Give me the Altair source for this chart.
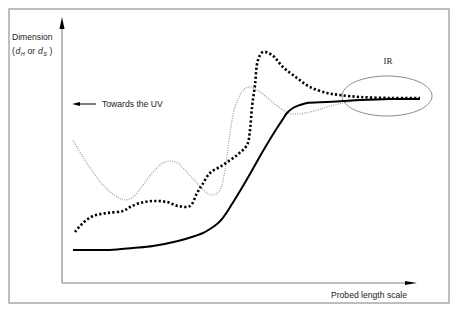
import math
import altair as alt
import pandas as pd

# ---- data (schematic units: x = probed length scale, y = dimension) ----
solid_x = [11, 33, 48, 71, 91, 116, 133, 141, 148, 155, 160, 165, 170, 175, 188, 201, 215, 221, 225, 231, 238, 245, 265, 281, 298, 328, 358]
solid_y = [33, 33, 33, 35, 37, 42, 47, 50, 54, 59, 64, 71, 79, 87, 109, 132, 155, 164, 170, 175, 178, 180, 181, 182, 183, 184, 184]

dash_x = [13, 21, 31, 45, 61, 68, 78, 91, 105, 116, 128, 135, 140, 148, 161, 175, 185, 188, 190, 193, 196, 201, 210, 221, 235, 248, 265, 278, 298, 328, 358]
dash_y = [51, 60, 67, 70, 72, 76, 80, 82, 81, 77, 77, 90, 98, 110, 118, 128, 138, 153, 176, 198, 223, 231, 228, 216, 205, 196, 190, 188, 186, 185, 185]

gray_x = [11, 21, 31, 41, 55, 63, 71, 81, 91, 101, 108, 116, 121, 135, 145, 151, 158, 163, 168, 173, 180, 186, 195, 208, 221, 231, 248, 265, 281, 295, 328, 358]
gray_y = [143, 126, 111, 98, 86, 83, 86, 98, 111, 120, 122, 120, 115, 100, 90, 88, 93, 113, 150, 176, 191, 196, 193, 183, 173, 169, 171, 176, 180, 182, 184, 185]

# IR region ellipse (center, radii)
ir_center = (325, 187)
ir_radii = (45, 20)

# domain of the whole drawing
XDOM = [-54, 388]
YDOM = [-21, 275]

W, H = 442, 296
xs = alt.Scale(domain=XDOM, nice=False, zero=False)
ys = alt.Scale(domain=YDOM, nice=False, zero=False)
X = lambda f="x": alt.X(f"{f}:Q", scale=xs, axis=None)
Y = lambda f="y": alt.Y(f"{f}:Q", scale=ys, axis=None)

AXIS_GRAY = "#a9a9a9"
FONT = "Liberation Sans"

# frame
frame = alt.Chart(pd.DataFrame({"x": [XDOM[0] + 1], "x2": [XDOM[1] - 1], "y": [YDOM[0] + 1], "y2": [YDOM[1] - 1]})).mark_rect(
    fill=None, stroke=AXIS_GRAY, strokeWidth=1.5
).encode(x=X(), x2="x2:Q", y=Y(), y2="y2:Q")

# axes lines
axes_df = pd.DataFrame({"x": [0, 0], "x2": [0, 345], "y": [0, 0], "y2": [258, 0]})
axes = alt.Chart(axes_df).mark_rule(color=AXIS_GRAY, strokeWidth=1.6).encode(
    x=X(), x2="x2:Q", y=Y(), y2="y2:Q"
)

# arrowheads
up_head = alt.Chart(pd.DataFrame({"x": [0], "y": [260]})).mark_point(
    shape="M0,-1L0.42,1L-0.42,1Z", size=144, filled=True, color="black", opacity=1
).encode(x=X(), y=Y())
right_head = alt.Chart(pd.DataFrame({"x": [349], "y": [0]})).mark_point(
    shape="M1,0L-1,-0.35L-1,0.35Z", size=144, filled=True, color="black", opacity=1
).encode(x=X(), y=Y())

# "Towards the UV" arrow
uv_line = alt.Chart(pd.DataFrame({"x": [16], "x2": [34], "y": [179]})).mark_rule(color="black", strokeWidth=1).encode(
    x=X(), x2="x2:Q", y=Y()
)
uv_head = alt.Chart(pd.DataFrame({"x": [14], "y": [179]})).mark_point(
    shape="M-1,0L1,-0.5L1,0.5Z", size=64, filled=True, color="black", opacity=1
).encode(x=X(), y=Y())

# ellipse outline (decoration)
n = 90
ell = pd.DataFrame({
    "i": list(range(n + 1)),
    "x": [ir_center[0] + ir_radii[0] * math.cos(2 * math.pi * k / n) for k in range(n + 1)],
    "y": [ir_center[1] + ir_radii[1] * math.sin(2 * math.pi * k / n) for k in range(n + 1)],
})
ellipse = alt.Chart(ell).mark_line(color="#8a8a8a", strokeWidth=1).encode(x=X(), y=Y(), order="i:Q")

# curves
def curve(xv, yv, **kw):
    df = pd.DataFrame({"x": xv, "y": yv, "i": list(range(len(xv)))})
    return alt.Chart(df).mark_line(interpolate="catmull-rom", **kw).encode(x=X(), y=Y(), order="i:Q")

gray_c = curve(gray_x, gray_y, color="#999999", strokeWidth=1.2, strokeDash=[1, 1.3])
dash_c = curve(dash_x, dash_y, color="black", strokeWidth=2.6, strokeDash=[2.2, 2.2])
solid_c = curve(solid_x, solid_y, color="black", strokeWidth=2)

# text labels
def txt(rows, **kw):
    df = pd.DataFrame(rows, columns=["x", "y", "t"])
    return alt.Chart(df).mark_text(font=FONT, baseline="alphabetic", color="#222", **kw).encode(
        x=X(), y=Y(), text="t:N"
    )

labels = txt([
    (-50, 243, "Dimension"),
    (-50, 229, "("),
    (-34.5, 229, "or"),
    (-12.5, 229, ")"),
    (40, 176, "Towards the UV"),
    (269, -15, "Probed length scale"),
], align="left", fontSize=8.6)
ital = txt([(-46.5, 229, "d"), (-24, 229, "d")], align="left", fontSize=8.6, fontStyle="italic")
subs = txt([(-41.3, 227, "H"), (-18.8, 227, "S")], align="left", fontSize=5.5, fontStyle="italic")
ir = alt.Chart(pd.DataFrame({"x": [326], "y": [219], "t": ["IR"]})).mark_text(
    font="Liberation Serif", fontSize=9, align="center", baseline="alphabetic", color="#222"
).encode(x=X(), y=Y(), text="t:N")

chart = alt.layer(
    frame, axes, up_head, right_head, uv_line, uv_head, ellipse,
    gray_c, dash_c, solid_c, labels, ital, subs, ir
).properties(
    width=W, height=H, padding=0,
    autosize=alt.AutoSizeParams(type="fit", contains="padding"),
).configure_view(stroke=None)

chart.save("out.html", embed_options={"renderer": "svg", "actions": False})
